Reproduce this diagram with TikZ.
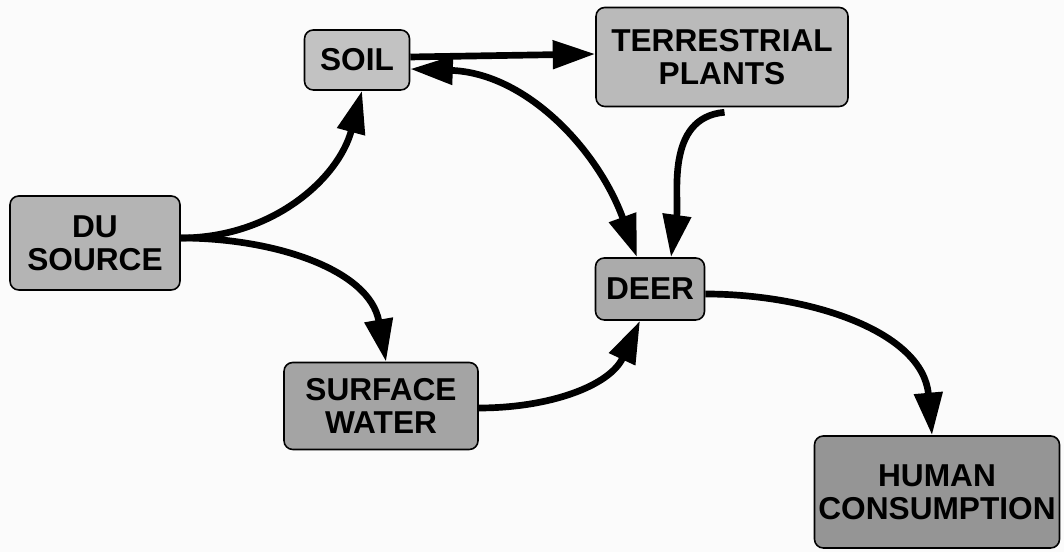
\documentclass[tikz,border=0pt]{standalone}
\usepackage{fontspec}
\setmainfont{Liberation Sans}
\usetikzlibrary{arrows.meta, positioning, calc}
\usepackage{xcolor}
\definecolor{SourceGray}{HTML}{B4B4B4}
\definecolor{SoilGray}{HTML}{C2C2C2}
\definecolor{PlantGray}{HTML}{BABABA}
\definecolor{DeerGray}{HTML}{ABABAB}
\definecolor{WaterGray}{HTML}{A4A4A4}
\definecolor{HumanGray}{HTML}{959595}
\definecolor{PageWhite}{HTML}{FBFBFB}

\begin{document}
\begin{tikzpicture}[
    box/.style={draw, line width=0.9pt, rounded corners=5pt, align=center,
        font=\fontsize{18}{19}\selectfont\bfseries, inner sep=0pt},
    arr/.style={-{Triangle[length=8.5mm, width=5.5mm]}, line width=3.8pt},
    both/.style={{Triangle[length=8.5mm, width=5.5mm]}-{Triangle[length=8.5mm, width=5.5mm]}, line width=3.8pt}
]

\fill[PageWhite] (0, 0) rectangle (21.28, 11.04);
\useasboundingbox (0, 0) rectangle (21.28, 11.04);

\node[box, fill=SourceGray, minimum width=3.4cm, minimum height=1.88cm] (source) at (1.9, 6.18) {DU\\SOURCE};
\node[box, fill=SoilGray, minimum width=2.1cm, minimum height=1.2cm] (soil) at (7.14, 9.84) {SOIL};
\node[box, fill=PlantGray, minimum width=5.04cm, minimum height=1.98cm] (plants) at (14.44, 9.9) {TERRESTRIAL\\PLANTS};
\node[box, fill=DeerGray, minimum width=2.18cm, minimum height=1.24cm] (deer) at (13.0, 5.26) {DEER};
\node[box, fill=WaterGray, minimum width=3.88cm, minimum height=1.74cm] (water) at (7.62, 2.92) {SURFACE\\WATER};
\node[box, fill=HumanGray, minimum width=4.9cm, minimum height=2.24cm] (human) at (18.74, 1.2) {HUMAN\\CONSUMPTION};

% pathways
\draw[arr] ([yshift=1mm]source.east) to[out=0, in=-105] ([xshift=1mm]soil.south);
\draw[arr] ([yshift=1mm]source.east) to[out=0, in=100] ([xshift=0.1cm]water.north);
\draw[arr] ([yshift=0.6mm]soil.east) -- ([yshift=0.6mm]plants.west);
\draw[both] ([yshift=-1.8mm]soil.east) to[out=-2, in=110] ([xshift=-2.6mm]deer.north);
\draw[arr] ([xshift=0.05cm, yshift=-0.1cm]plants.south) to[out=185, in=82] ([xshift=4.2mm]deer.north);
\draw[arr] ([yshift=-0.4mm]water.east) to[out=0, in=-115] ([xshift=-2mm]deer.south);
\draw[arr] ([yshift=-1mm]deer.east) to[out=0, in=95] ([xshift=-0.1cm]human.north);

\end{tikzpicture}
\end{document}
